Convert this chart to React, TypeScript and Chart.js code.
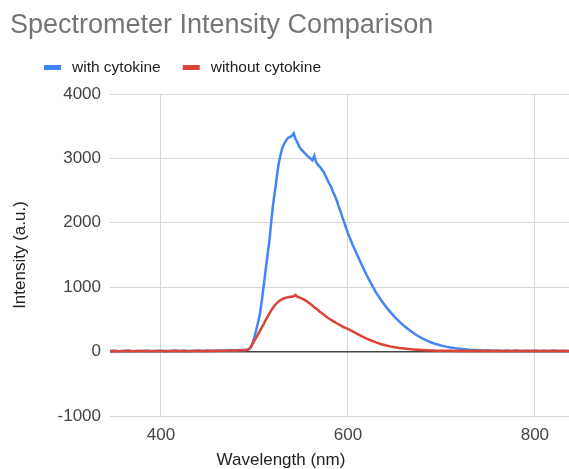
import React, { useEffect, useRef } from "react";
import { Chart, registerables } from "chart.js";

Chart.register(...registerables);

const FONT = "'Liberation Sans', Arial, Helvetica, sans-serif";

const chartTitle = "Spectrometer Intensity Comparison";
const xAxisTitle = "Wavelength (nm)";
const yAxisTitle = "Intensity (a.u.)";
const seriesNames = ["with cytokine", "without cytokine"];
const seriesColors = ["#4285f4", "#db4437"];
const xTicks = [400, 600, 800];
const yTicks = [-1000, 0, 1000, 2000, 3000, 4000];

const wavelengths = [
  345, 350, 355, 360, 365, 370, 375, 380, 385, 390, 395, 400, 405, 410, 415,
  420, 425, 430, 435, 440, 445, 450, 455, 460, 465, 470, 475, 480, 485, 490,
  492, 494, 496, 498, 500, 502, 504, 506, 508, 510, 512, 514, 516, 518, 520,
  522, 524, 526, 528, 530, 532, 534, 536, 538, 540, 542, 544, 546, 548, 550,
  552, 554, 556, 558, 560, 562, 564, 566, 568, 570, 572, 574, 576, 578, 580,
  582, 584, 586, 588, 590, 592, 594, 596, 598, 600,
  605, 610, 615, 620, 625, 630, 635, 640, 645, 650, 655, 660, 665, 670, 675,
  680, 685, 690, 695, 700, 705, 710, 715, 720, 725, 730, 735, 740, 745, 750,
  755, 760, 765, 770, 775, 780, 785, 790, 795, 800, 805, 810, 815, 820, 825,
  830, 835, 840,
];

const withCytokine = [
  8, 12, 6, 10, 14, 7, 11, 9, 13, 8, 10, 12, 9, 11, 14,
  10, 12, 9, 13, 15, 11, 14, 12, 17, 14, 18, 20, 21, 24, 26,
  30, 38, 60, 130, 230, 340, 460, 600, 800, 1030, 1270, 1500, 1720, 2020, 2290,
  2500, 2720, 2920, 3060, 3170, 3230, 3280, 3320, 3330, 3350, 3390, 3300, 3250, 3180, 3140,
  3110, 3080, 3050, 3020, 3000, 2970, 3040, 2940, 2900, 2870, 2830, 2790, 2730, 2670, 2610,
  2560, 2480, 2420, 2350, 2260, 2180, 2090, 2010, 1920, 1840,
  1660, 1500, 1340, 1190, 1050, 920, 810, 710, 620, 540, 465, 400, 342, 290, 242,
  202, 168, 138, 113, 93, 77, 63, 52, 43, 36, 30, 26, 22, 19, 16,
  14, 12, 11, 13, 10, 12, 9, 11, 10, 12, 9, 11, 10, 12, 9,
  11, 10, 12,
];

const withoutCytokine = [
  6, 10, 5, 9, 12, 6, 10, 8, 11, 6, 9, 11, 7, 10, 12,
  8, 11, 7, 10, 13, 9, 12, 10, 15, 12, 15, 18, 19, 21, 24,
  28, 35, 70, 120, 170, 220, 270, 325, 380, 430, 490, 540, 590, 640, 685,
  720, 755, 780, 800, 815, 828, 838, 845, 850, 852, 858, 880, 850, 842, 830,
  815, 800, 782, 760, 740, 715, 690, 668, 645, 620, 598, 575, 552, 530, 510,
  492, 474, 457, 440, 425, 408, 393, 378, 365, 352,
  315, 275, 238, 203, 172, 143, 118, 98, 81, 67, 56, 47, 39, 33, 28,
  24, 20, 17, 15, 13, 12, 14, 11, 13, 10, 12, 11, 13, 10, 12,
  11, 13, 10, 12, 11, 13, 10, 12, 9, 12, 11, 13, 10, 12, 11,
  12, 10, 12,
];

const overlayPlugin = {
  id: "overlayText",
  afterDraw(chart: any) {
    const ctx = chart.ctx as CanvasRenderingContext2D;
    ctx.save();
    // Title
    ctx.fillStyle = "#757575";
    ctx.font = `27px ${FONT}`;
    ctx.textAlign = "left";
    ctx.textBaseline = "alphabetic";
    ctx.fillText(chartTitle, 10, 33);

    // Legend
    ctx.font = `15.5px ${FONT}`;
    ctx.textBaseline = "middle";
    let x0 = 44;
    seriesNames.forEach((name, i) => {
      ctx.fillStyle = seriesColors[i];
      ctx.fillRect(x0, 65, 17, 5);
      ctx.fillStyle = "#222222";
      const tx = x0 + 28;
      ctx.fillText(name, tx, 67.5);
      x0 = tx + ctx.measureText(name).width + 22;
    });

    // X axis title
    ctx.font = `17px ${FONT}`;
    ctx.fillStyle = "#222222";
    ctx.textAlign = "center";
    ctx.textBaseline = "middle";
    ctx.fillText(xAxisTitle, 281, 460);
    ctx.restore();
  },
};

export default function App() {
  const canvasRef = useRef<HTMLCanvasElement | null>(null);

  useEffect(() => {
    if (!canvasRef.current) return;
    const makeData = (vals: number[]) =>
      wavelengths.map((w, i) => ({ x: w, y: vals[i] }));

    const chart = new Chart(canvasRef.current, {
      type: "line",
      data: {
        datasets: [
          {
            label: seriesNames[0],
            data: makeData(withCytokine),
            borderColor: seriesColors[0],
            backgroundColor: seriesColors[0],
            borderWidth: 2.5,
            pointRadius: 0,
            tension: 0,
            order: 1,
          },
          {
            label: seriesNames[1],
            data: makeData(withoutCytokine),
            borderColor: seriesColors[1],
            backgroundColor: seriesColors[1],
            borderWidth: 2.5,
            pointRadius: 0,
            tension: 0,
            order: 0,
          },
        ],
      },
      options: {
        responsive: false,
        animation: false,
        events: [],
        layout: { padding: { top: 94, left: 0, right: 0, bottom: 0 } },
        plugins: {
          legend: { display: false },
          title: { display: false },
          tooltip: { enabled: false },
        },
        scales: {
          x: {
            type: "linear",
            min: 345.5,
            max: 836.5,
            afterBuildTicks: (s: any) => {
              s.ticks = xTicks.map((v) => ({ value: v }));
            },
            afterFit: (s: any) => {
              s.height = 53;
            },
            grid: { color: "#d6d6d6", drawTicks: false, lineWidth: 1 },
            border: { display: false },
            ticks: {
              color: "#444444",
              font: { size: 17, family: FONT },
              padding: 9,
              maxRotation: 0,
              autoSkip: false,
              callback: (v: any) => String(v),
            },
          },
          y: {
            type: "linear",
            min: -1000,
            max: 4000,
            afterBuildTicks: (s: any) => {
              s.ticks = yTicks.map((v) => ({ value: v }));
            },
            afterFit: (s: any) => {
              s.width = 110;
            },
            grid: {
              color: (c: any) => (c.tick && c.tick.value === 0 ? "#444444" : "#d6d6d6"),
              lineWidth: (c: any) => (c.tick && c.tick.value === 0 ? 1.5 : 1),
              drawTicks: false,
            },
            border: { display: false },
            ticks: {
              color: "#444444",
              font: { size: 17, family: FONT },
              padding: 9,
              callback: (v: any) => String(v),
            },
            title: {
              display: true,
              text: yAxisTitle,
              color: "#222222",
              font: { size: 17, family: FONT },
              padding: 10,
            },
          },
        },
      },
      plugins: [overlayPlugin],
    });
    return () => chart.destroy();
  }, []);

  return (
    <div style={{ position: "absolute", left: 0, top: 0, width: 569, height: 469, background: "#fff" }}>
      <canvas ref={canvasRef} width={569} height={469} />
    </div>
  );
}
